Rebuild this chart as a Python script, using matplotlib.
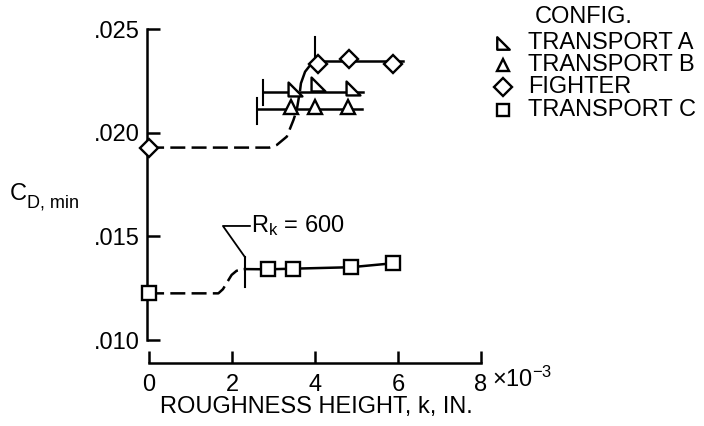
import matplotlib
matplotlib.use("Agg")
import matplotlib.pyplot as plt
from matplotlib.path import Path

plt.rcParams["font.family"] = ["Liberation Sans", "DejaVu Sans"]
plt.rcParams["mathtext.fontset"] = "custom"
plt.rcParams["mathtext.rm"] = "Liberation Sans"
plt.rcParams["mathtext.it"] = "Liberation Sans"

# roughness height k (x 1e-3 in.) and minimum drag coefficient
fighter_k = [0.0, 4.08, 4.83, 5.89]
fighter_cd = [0.01928, 0.0233, 0.02353, 0.02333]
fighter_fair_k = [0.0, 2.9, 3.08, 3.32, 3.48, 3.56, 3.64]
fighter_fair_cd = [0.01928, 0.01928, 0.01941, 0.01981, 0.02061, 0.0211, 0.02206]
fighter_join_k = [3.64, 3.66, 3.76, 3.92, 4.08]
fighter_join_cd = [0.02206, 0.02238, 0.02294, 0.02335, 0.02344]
fighter_line_k = [4.08, 6.12]
fighter_line_cd = [0.02344, 0.02344]

transA_k = [3.52, 4.08, 4.92]
transA_cd = [0.0221, 0.02233, 0.02216]
transA_line_k = [2.75, 5.16]
transA_line_cd = [0.02198, 0.02198]

transB_k = [3.41, 4.0, 4.8]
transB_cd = [0.02123, 0.02123, 0.02123]
transB_line_k = [2.6, 5.12]
transB_line_cd = [0.02112, 0.02112]

transC_k = [0.0, 2.87, 3.48, 4.86, 5.87]
transC_cd = [0.01225, 0.01341, 0.01344, 0.01351, 0.0137]
transC_fair_k = [0.0, 1.67, 1.78, 1.87, 1.99, 2.11, 2.31]
transC_fair_cd = [0.01225, 0.01225, 0.01245, 0.01275, 0.01314, 0.01334, 0.01342]
transC_line_k = [2.31, 2.87, 3.48, 4.86, 5.87]
transC_line_cd = [0.01342, 0.01341, 0.01344, 0.01351, 0.0137]

# R_k = 600 bars: k, cd low, cd high
rk_bars = [(2.75, 0.02134, 0.02254), (2.6, 0.02042, 0.02166),
           (4.0, 0.0234, 0.02463), (2.31, 0.01256, 0.0140)]
leader_k = [2.43, 1.78, 2.31]
leader_cd = [0.0155, 0.0155, 0.0140]

y_ticks = [0.010, 0.015, 0.020, 0.025]
y_labels = [".010", ".015", ".020", ".025"]
x_ticks = [0, 2, 4, 6, 8]
x_labels = ["0", "2", "4", "6", "8"]
legend_names = ["TRANSPORT A", "TRANSPORT B", "FIGHTER", "TRANSPORT C"]

W, H = 704, 426
LW = 1.8
FS = 17
dash = (0, (6, 2.5))

rtri = Path([(-1, -1), (-1, 1), (1, -1), (-1, -1)],
            [Path.MOVETO, Path.LINETO, Path.LINETO, Path.CLOSEPOLY])
mk = dict(markerfacecolor="white", markeredgecolor="black", markeredgewidth=1.7,
          linestyle="none", clip_on=False, zorder=5)

fig = plt.figure(figsize=(W / 100, H / 100), dpi=100)
ax = fig.add_axes([147 / W, 1 - 362.5 / H, (481 - 147) / W, (362.5 - 29) / H])
ax.set_xlim(-0.05, 8.0)
ax.set_ylim(0.008915, 0.025)

for s in ["top", "right"]:
    ax.spines[s].set_visible(False)
ax.spines["left"].set_bounds(0.010, 0.025)
ax.spines["bottom"].set_bounds(0, 8)
ax.spines["left"].set_linewidth(LW)
ax.spines["bottom"].set_linewidth(LW)

ax.set_yticks(y_ticks)
ax.set_yticklabels(y_labels)
ax.set_xticks(x_ticks)
ax.set_xticklabels(x_labels)
ax.tick_params(axis="y", direction="in", length=9, width=LW, labelsize=FS, pad=5)
ax.tick_params(axis="x", direction="in", length=9, width=LW, labelsize=FS, pad=8)

# faired curves and lines
ax.plot(fighter_fair_k, fighter_fair_cd, color="black", lw=LW, ls=dash)
ax.plot(fighter_join_k, fighter_join_cd, color="black", lw=LW)
ax.plot(fighter_line_k, fighter_line_cd, color="black", lw=LW)
ax.plot(transA_line_k, transA_line_cd, color="black", lw=LW)
ax.plot(transB_line_k, transB_line_cd, color="black", lw=LW)
ax.plot(transC_fair_k, transC_fair_cd, color="black", lw=LW, ls=dash)
ax.plot(transC_line_k, transC_line_cd, color="black", lw=LW)
for k, lo, hi in rk_bars:
    ax.plot([k, k], [lo, hi], color="black", lw=1.5)
ax.plot(leader_k, leader_cd, color="black", lw=1.3)

# data points
ax.plot(transA_k, transA_cd, marker=rtri, markersize=10, **mk)
ax.plot(transB_k, transB_cd, marker="^", markersize=10, **mk)
ax.plot(fighter_k, fighter_cd, marker="D", markersize=9.5, **mk)
ax.plot(transC_k, transC_cd, marker="s", markersize=10, **mk)

ax.text(2.45, 0.0155, r"R$_{\mathrm{k}}$ = 600", fontsize=FS, va="center", ha="left")

# axis labels
fig.text(492 / W, 1 - 387 / H, r"$\times$10$^{-3}$", fontsize=FS, ha="left", va="baseline")
fig.text(316 / W, 1 - 407 / H, "ROUGHNESS HEIGHT, k, IN.", fontsize=FS, ha="center", va="center")
fig.text(10 / W, 1 - 200 / H, "C", fontsize=FS, ha="left", va="baseline")
fig.text(27 / W, 1 - 207 / H, "D, min", fontsize=13, ha="left", va="baseline")

# legend
fig.text(535 / W, 1 - 17 / H, "CONFIG.", fontsize=FS, ha="left", va="center")
legend_markers = [(rtri, 9), ("^", 9), ("D", 9), ("s", 9)]
legend_y = [43, 65, 87, 110]
for (m, ms), name, py in zip(legend_markers, legend_names, legend_y):
    ax.plot([503 / W], [1 - py / H], marker=m, markersize=ms,
            transform=fig.transFigure, **mk)
    fig.text(528 / W, 1 - py / H, name, fontsize=FS, ha="left", va="center")

fig.savefig("out.png", dpi=100)
